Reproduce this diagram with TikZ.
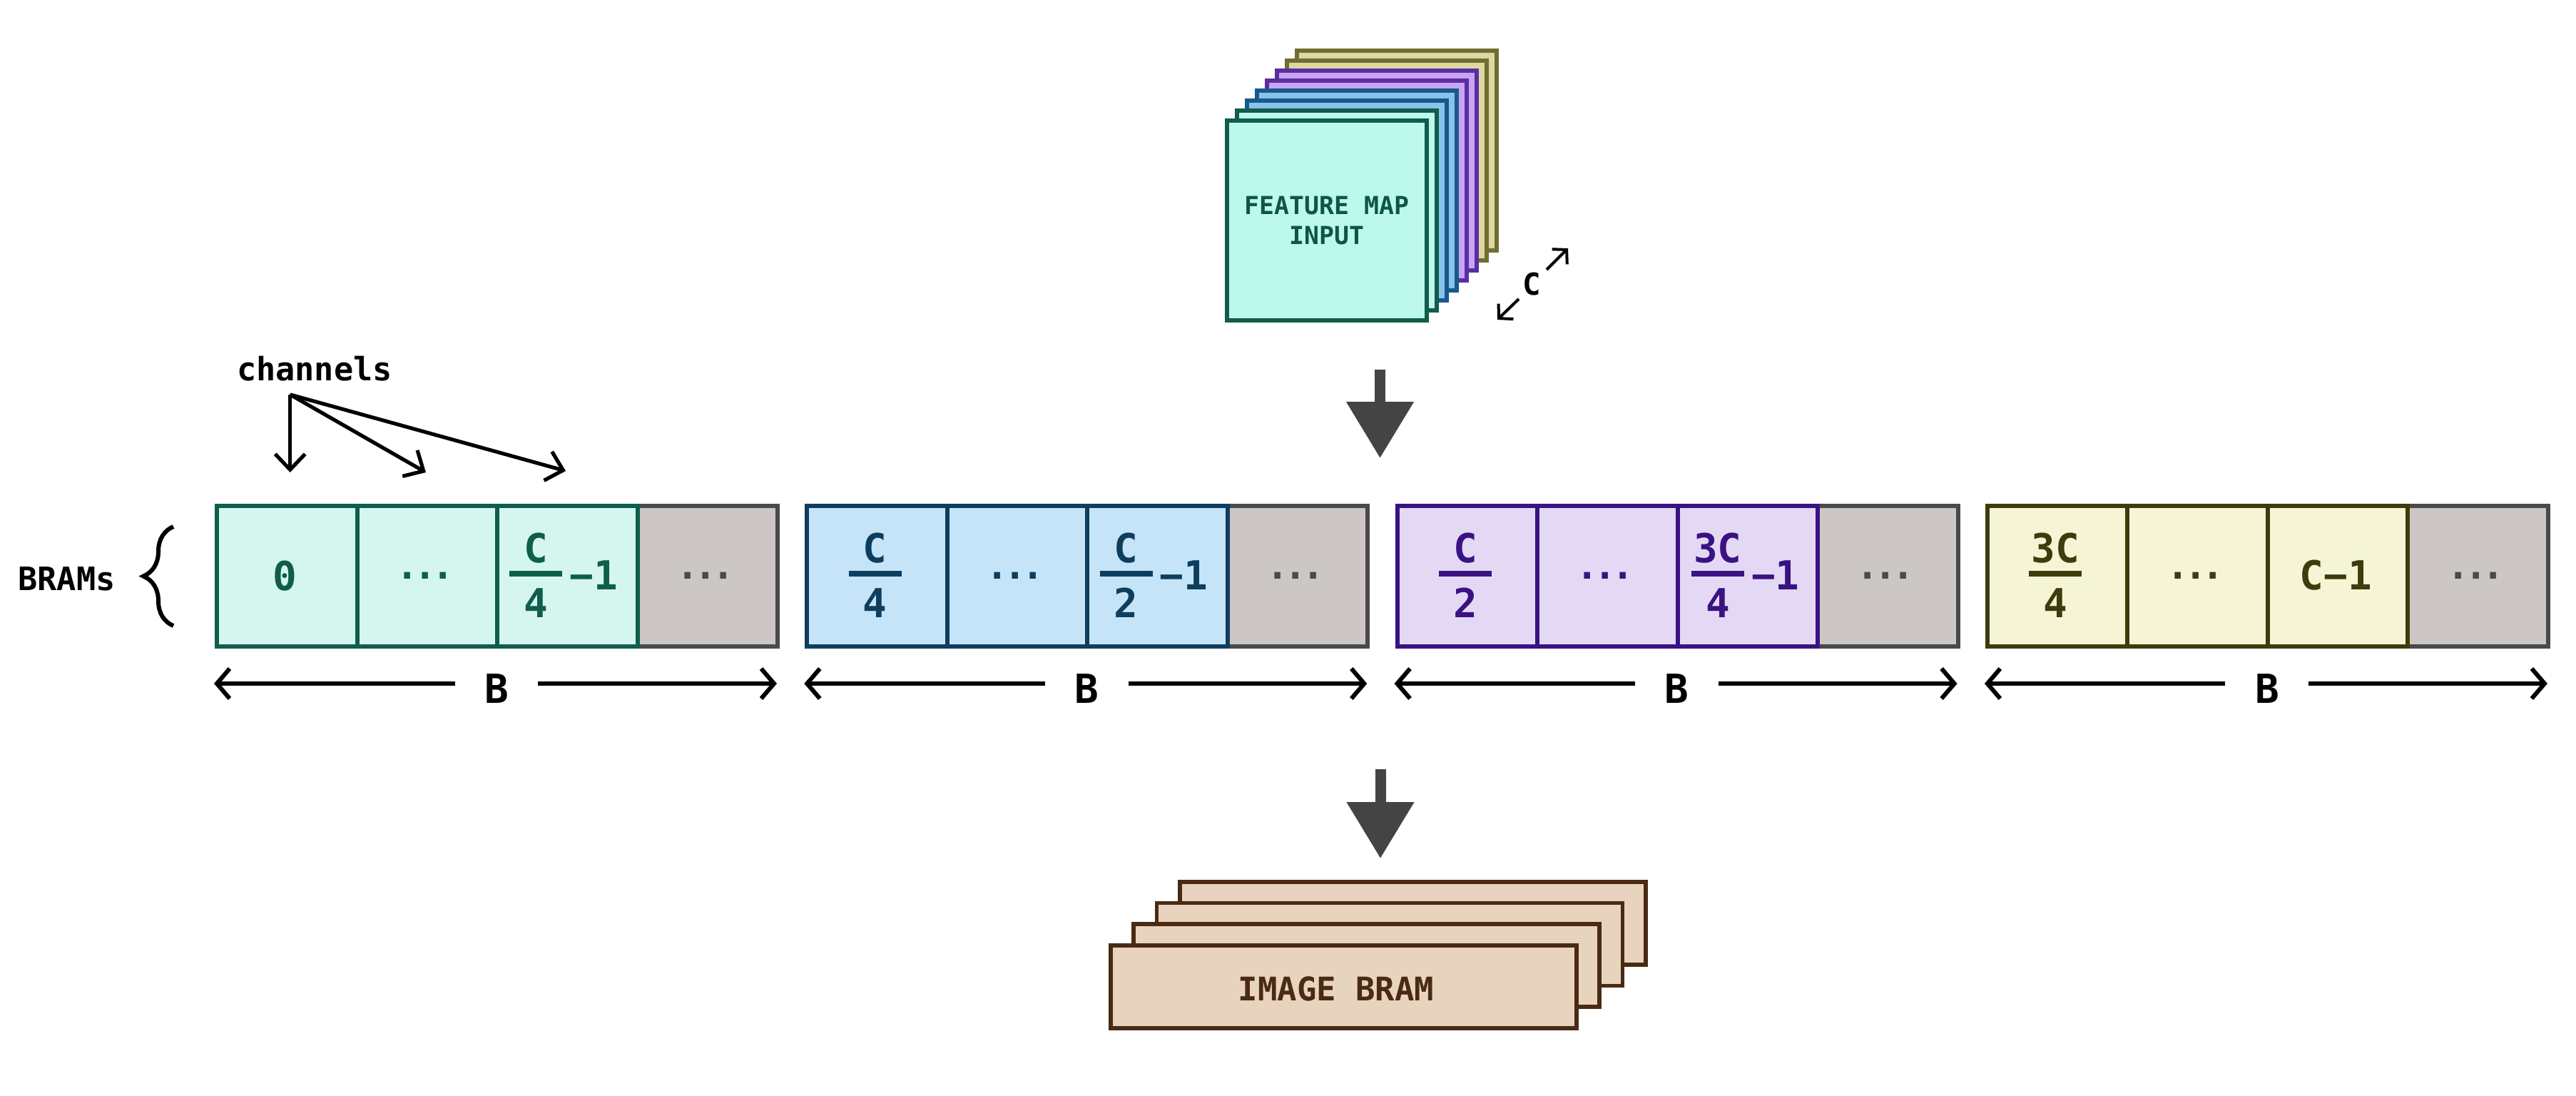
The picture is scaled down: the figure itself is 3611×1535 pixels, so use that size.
\documentclass[tikz,border=0pt]{standalone}
\usepackage{fontspec}
\setmainfont{DejaVu Sans Mono}
\usetikzlibrary{arrows.meta,decorations.pathreplacing}

\definecolor{gAfill}{HTML}{D5F6EE}\definecolor{gAline}{HTML}{0F5E4B}
\definecolor{gBfill}{HTML}{C6E4F8}\definecolor{gBline}{HTML}{0E3E5E}
\definecolor{gCfill}{HTML}{E4D9F4}\definecolor{gCline}{HTML}{3B1283}
\definecolor{gDfill}{HTML}{F5F5D6}\definecolor{gDline}{HTML}{3C3C0C}
\definecolor{grayfill}{HTML}{CCC6C4}\definecolor{grayline}{HTML}{4A4A4A}
\definecolor{fmtealf}{HTML}{BDF8EC}\definecolor{fmteall}{HTML}{115C4B}
\definecolor{fmbluef}{HTML}{87C4EB}\definecolor{fmbluel}{HTML}{19598A}
\definecolor{fmpurf}{HTML}{C9A3F6}\definecolor{fmpurl}{HTML}{5B2EA0}
\definecolor{fmkhf}{HTML}{DDD8A2}\definecolor{fmkhl}{HTML}{6F6E31}
\definecolor{fmtext}{HTML}{0E5647}
\definecolor{bigarrow}{HTML}{444444}
\definecolor{imgfill}{HTML}{E8D4BE}\definecolor{imgline}{HTML}{4A2A12}

\newcommand{\mydots}{.\kern-1.6pt.\kern-1.6pt.}
\newcommand{\bramgroup}[4]{%
  \node[cell, fill=grayfill, draw=grayline] (#1c4) at (#2+589.5,706) {};
  \node[cell, fill=#3, draw=#4] (#1c1) at (#2,706) {};
  \node[cell, fill=#3, draw=#4] (#1c2) at (#2+196.5,706) {};
  \node[cell, fill=#3, draw=#4] (#1c3) at (#2+393,706) {};
  \node[dotstxt, text=#4] (#1t2) at (#2+294.75,811) {\mydots};
  \node[dotstxt, text=grayline] (#1t4) at (#2+687.75,811) {\mydots};
  \coordinate (#1L) at (#2-1,958);
  \coordinate (#1R) at (#2+788,958);
  \node[btxt] (#1B) at (#2+395,985) {B};
  \draw[dimarrow] (#1B.west |- #1L) -- (#1L);
  \draw[dimarrow] (#1B.east |- #1R) -- (#1R);
}
\newcommand{\fracat}[5]{%
  \node[celltxt, text=#5] (#1n) at (#2,788) {#3};
  \node[celltxt, text=#5] (#1d) at (#2,865) {#4};
  \draw[#5, line width=2pt] (#2-37,804) -- (#2+37,804);
}

\begin{document}
\begin{tikzpicture}[x=0.25pt,y=-0.25pt,
  cell/.style={anchor=north west, line width=1.5pt, minimum width=49.125pt,
    minimum height=49.25pt, inner sep=0pt},
  celltxt/.style={anchor=base, inner sep=0pt, font=\fontsize{14pt}{17pt}\selectfont\bfseries},
  dotstxt/.style={anchor=base, inner sep=0pt, font=\fontsize{13pt}{16pt}\selectfont\bfseries},
  btxt/.style={anchor=base, inner xsep=10.2pt, inner ysep=0pt, font=\fontsize{14pt}{17pt}\selectfont\bfseries},
  lbl/.style={anchor=base, inner sep=0pt, font=\fontsize{11.3pt}{14pt}\selectfont\bfseries},
  dimarrow/.style={line width=1.5pt, -{Straight Barb[length=4.5pt,width=10.5pt]}},
  chanarrow/.style={line width=1.3pt, -{Straight Barb[length=5.5pt,width=10.5pt]}},
  carrow/.style={line width=1pt, -{Straight Barb[length=3.5pt,width=7.5pt]}},
  blockarrow/.style={bigarrow, line width=3.75pt, -{Triangle[length=19.75pt,width=22.75pt]}},
  fmlayer/.style={anchor=north west, line width=1.4pt, minimum width=70pt,
    minimum height=70pt, inner sep=0pt},
  imglayer/.style={anchor=north west, line width=1.4pt, minimum width=163.25pt,
    minimum height=29pt, inner sep=0pt, fill=imgfill, draw=imgline}]

\fill[white] (0,0) rectangle (3611,1535);
\useasboundingbox (0,0) rectangle (3611,1535);

% feature map stack
\foreach \i/\f/\d in {7/fmkhf/fmkhl,6/fmkhf/fmkhl,5/fmpurf/fmpurl,4/fmpurf/fmpurl,
                      3/fmbluef/fmbluel,2/fmbluef/fmbluel,1/fmtealf/fmteall,0/fmtealf/fmteall}{
  \node[fmlayer, fill=\f, draw=\d] (fm\i) at (1717+14*\i,166-14*\i) {};
}
\node[align=center, inner sep=0pt, text=fmtext,
  font=\fontsize{8.7pt}{10.5pt}\selectfont\bfseries] (fmtext) at (fm0.center) {FEATURE MAP\\INPUT};

% C depth label
\node[inner sep=0pt, font=\fontsize{10.6pt}{13pt}\selectfont\bfseries] (clabel) at (2147,398) {C};
\coordinate (cdl0) at (2129,419); \coordinate (cdl1) at (2099,448);
\coordinate (cur0) at (2168,378); \coordinate (cur1) at (2198,348);
\draw[carrow] (cdl0) -- (cdl1);
\draw[carrow] (cur0) -- (cur1);

% first block arrow
\coordinate (ba1s) at (1934.5,518); \coordinate (ba1e) at (1934.5,642);
\draw[blockarrow] (ba1s) -- (ba1e);

% BRAM groups
\bramgroup{gA}{301}{gAfill}{gAline}
\bramgroup{gB}{1128.3}{gBfill}{gBline}
\bramgroup{gC}{1955.6}{gCfill}{gCline}
\bramgroup{gD}{2782.9}{gDfill}{gDline}

\node[celltxt, text=gAline] (gAt1) at (399.25,827) {0};
\fracat{gAf}{751.25}{C}{4}{gAline}
\node[celltxt, text=gAline] (gAm) at (832.25,826) {−1};

\fracat{gBa}{1226.55}{C}{4}{gBline}
\fracat{gBb}{1578.55}{C}{2}{gBline}
\node[celltxt, text=gBline] (gBm) at (1659.55,826) {−1};

\fracat{gCa}{2053.85}{C}{2}{gCline}
\fracat{gCb}{2407.85}{3C}{4}{gCline}
\node[celltxt, text=gCline] (gCm) at (2488.85,826) {−1};

\fracat{gDa}{2881.15}{3C}{4}{gDline}
\node[celltxt, text=gDline] (gDt3) at (3274.15,826) {C−1};

% BRAMs label and brace
\node[lbl] (brams) at (93.5,827) {BRAMs};
\coordinate (brb) at (243,877); \coordinate (brt) at (243,738);
\draw[line width=1.5pt, decorate, decoration={brace, amplitude=10.5pt}] (brb) -- (brt);

% channels
\node[lbl] (chan) at (441,533) {channels};
\coordinate (chorig) at (406.7,553);
\coordinate (ch1) at (406.7,662);
\coordinate (ch2) at (597,662);
\coordinate (ch3) at (793,660);
\draw[chanarrow] (chorig) -- (ch1);
\draw[chanarrow] (chorig) -- (ch2);
\draw[chanarrow] (chorig) -- (ch3);

% second block arrow
\coordinate (ba2s) at (1935,1078); \coordinate (ba2e) at (1935,1203);
\draw[blockarrow] (ba2s) -- (ba2e);

% image BRAM stack
\foreach \j in {3,2,1,0}{
  \node[imglayer] (img\j) at (1554+32.3*\j,1322-29.7*\j) {};
}
\node[anchor=base, inner sep=0pt, text=imgline,
  font=\fontsize{11.4pt}{14pt}\selectfont\bfseries] (imgtext) at (1873,1402) {IMAGE BRAM};

\end{tikzpicture}
\end{document}
